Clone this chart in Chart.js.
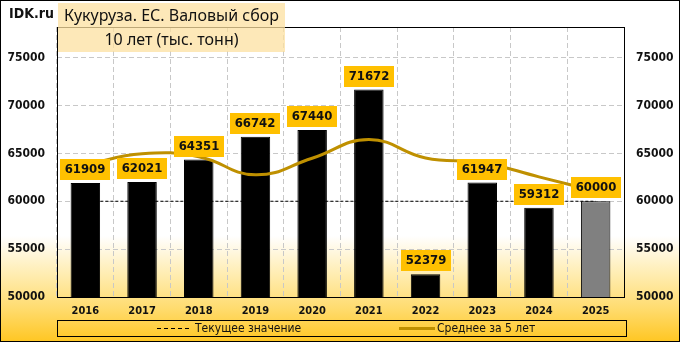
<!DOCTYPE html>
<html>
<head>
<meta charset="utf-8">
<script src="https://cdn.jsdelivr.net/npm/chart.js@4.4.1/dist/chart.umd.min.js"></script>
<style>
  html, body { margin: 0; padding: 0; }
  #wrap {
    position: relative; width: 680px; height: 342px; overflow: hidden;
    background: linear-gradient(180deg, #ffffff 0%, #ffffff 69%, #fff0c0 78%, #ffdc70 90%, #ffc622 100%);
  }
  #chart { position: absolute; left: 0; top: 0; }
  .frame { position: absolute; left: 0; top: 0; width: 680px; height: 342px; box-sizing: border-box; border: 1px solid #000; pointer-events: none; }
  .logo { position: absolute; left: 9px; top: 5px; font: bold 14px "DejaVu Sans Condensed", "DejaVu Sans", sans-serif; color: #111; }
  .tbox { position: absolute; left: 58px; width: 227px; background: rgba(252, 224, 160, 0.75); text-align: center; font: 16px "Noto Sans", sans-serif; color: #111; }
  .t1 { top: 3px; height: 24px; line-height: 24px; }
  .t2 { top: 27px; height: 25px; line-height: 25px; }
  .legend { position: absolute; left: 57px; top: 320px; width: 570px; height: 17px; box-sizing: border-box; border: 1px solid #000; font: 12px "DejaVu Sans Condensed", "DejaVu Sans", sans-serif; color: #111; }
  .legend span { position: absolute; top: 0; line-height: 15px; white-space: nowrap; }
  .dash { position: absolute; left: 99px; top: 7px; width: 32px; height: 1px; background: repeating-linear-gradient(90deg, #000 0 4px, transparent 4px 7px); }
  .gold { position: absolute; left: 341px; top: 6px; width: 36px; height: 3px; background: #bf9000; }
</style>
</head>
<body>
<div id="wrap">
  <canvas id="chart" width="680" height="342"></canvas>
  <div class="logo">IDK.ru</div>
  <div class="tbox t1">Кукуруза. ЕС. Валовый сбор</div>
  <div class="tbox t2">10 лет (тыс. тонн)</div>
  <div class="legend">
    <div class="dash"></div><span style="left:137px">Текущее значение</span>
    <div class="gold"></div><span style="left:379px">Среднее за 5 лет</span>
  </div>
  <div class="frame"></div>
</div>
<script>
const years = ["2016", "2017", "2018", "2019", "2020", "2021", "2022", "2023", "2024", "2025"];
const harvest = [61909, 62021, 64351, 66742, 67440, 71672, 52379, 61947, 59312, 60000];
const average5 = [63800, 64960, 64650, 62760, 64493, 66445, 64517, 64036, 62550, 61062];
const currentValue = [60000, 60000, 60000, 60000, 60000, 60000, 60000, 60000, 60000, 60000];
const yTicks = [50000, 55000, 60000, 65000, 70000, 75000];

const barColors = ["#000", "#000", "#000", "#000", "#000", "#000", "#000", "#000", "#000", "#808080"];
const tickFont = { family: "'DejaVu Sans Condensed', 'DejaVu Sans', sans-serif", size: 12, weight: "bold" };

// frame round the plot area
const framePlugin = {
  id: "frame",
  beforeDatasetsDraw(chart) {
    const a = chart.chartArea, ctx = chart.ctx;
    ctx.save();
    ctx.strokeStyle = "#000";
    ctx.lineWidth = 1;
    ctx.strokeRect(Math.round(a.left) + 0.5, Math.round(a.top) + 0.5, Math.round(a.right - a.left), Math.round(a.bottom - a.top));
    ctx.restore();
  }
};

// yellow value boxes above the bars
const valueBoxes = {
  id: "valueBoxes",
  afterDatasetsDraw(chart) {
    const ctx = chart.ctx;
    const meta = chart.getDatasetMeta(1);
    ctx.save();
    ctx.font = "bold 13px 'DejaVu Sans Condensed', 'DejaVu Sans', sans-serif";
    ctx.textAlign = "center";
    ctx.textBaseline = "middle";
    meta.data.forEach((bar, i) => {
      const x = Math.round(bar.x), y = Math.round(bar.y);
      ctx.fillStyle = "#ffc000";
      ctx.fillRect(x - 25, y - 24, 50, 21);
      ctx.fillStyle = "#111";
      ctx.fillText(String(harvest[i]), x, y - 13);
    });
    ctx.restore();
  }
};

function fixTicks(scale) {
  scale.ticks = yTicks.map(v => ({ value: v }));
}

new Chart(document.getElementById("chart"), {
  data: {
    labels: years,
    datasets: [
      {
        type: "line",
        label: "Среднее за 5 лет",
        data: average5,
        borderColor: "#bf9000",
        borderWidth: 3,
        tension: 0.45,
        pointRadius: 0,
        order: 0
      },
      {
        type: "bar",
        label: "Валовый сбор",
        data: harvest,
        backgroundColor: barColors,
        borderColor: "#000",
        borderWidth: 1,
        barPercentage: 0.52,
        categoryPercentage: 1,
        order: 1
      },
      {
        type: "line",
        label: "Текущее значение",
        data: currentValue,
        borderColor: "#000",
        borderWidth: 1,
        borderDash: [3, 2],
        pointRadius: 0,
        order: 2
      }
    ]
  },
  options: {
    responsive: false,
    animation: false,
    layout: { padding: { top: 27, bottom: 23, left: 0, right: 0 } },
    plugins: { legend: { display: false }, title: { display: false }, tooltip: { enabled: false } },
    scales: {
      x: {
        grid: { color: "#c8c8c8", drawTicks: false, offset: true },
        border: { display: false, dash: [5, 3] },
        ticks: { color: "#111", font: { ...tickFont, size: 11 }, padding: 8 },
        afterFit(scale) { scale.height = 22; }
      },
      y: {
        position: "left",
        min: 50000,
        max: 78200,
        grid: { color: "#c8c8c8", drawTicks: false },
        border: { display: false, dash: [5, 3] },
        ticks: { color: "#111", font: tickFont, padding: 12, callback: v => String(v) },
        afterBuildTicks: fixTicks,
        afterFit(scale) { scale.width = 57; }
      },
      y2: {
        position: "right",
        min: 50000,
        max: 78200,
        grid: { display: false, drawTicks: false },
        border: { display: false },
        ticks: { color: "#111", font: tickFont, padding: 12, callback: v => String(v) },
        afterBuildTicks: fixTicks,
        afterFit(scale) { scale.width = 56; }
      }
    }
  },
  plugins: [framePlugin, valueBoxes]
});
</script>
</body>
</html>
